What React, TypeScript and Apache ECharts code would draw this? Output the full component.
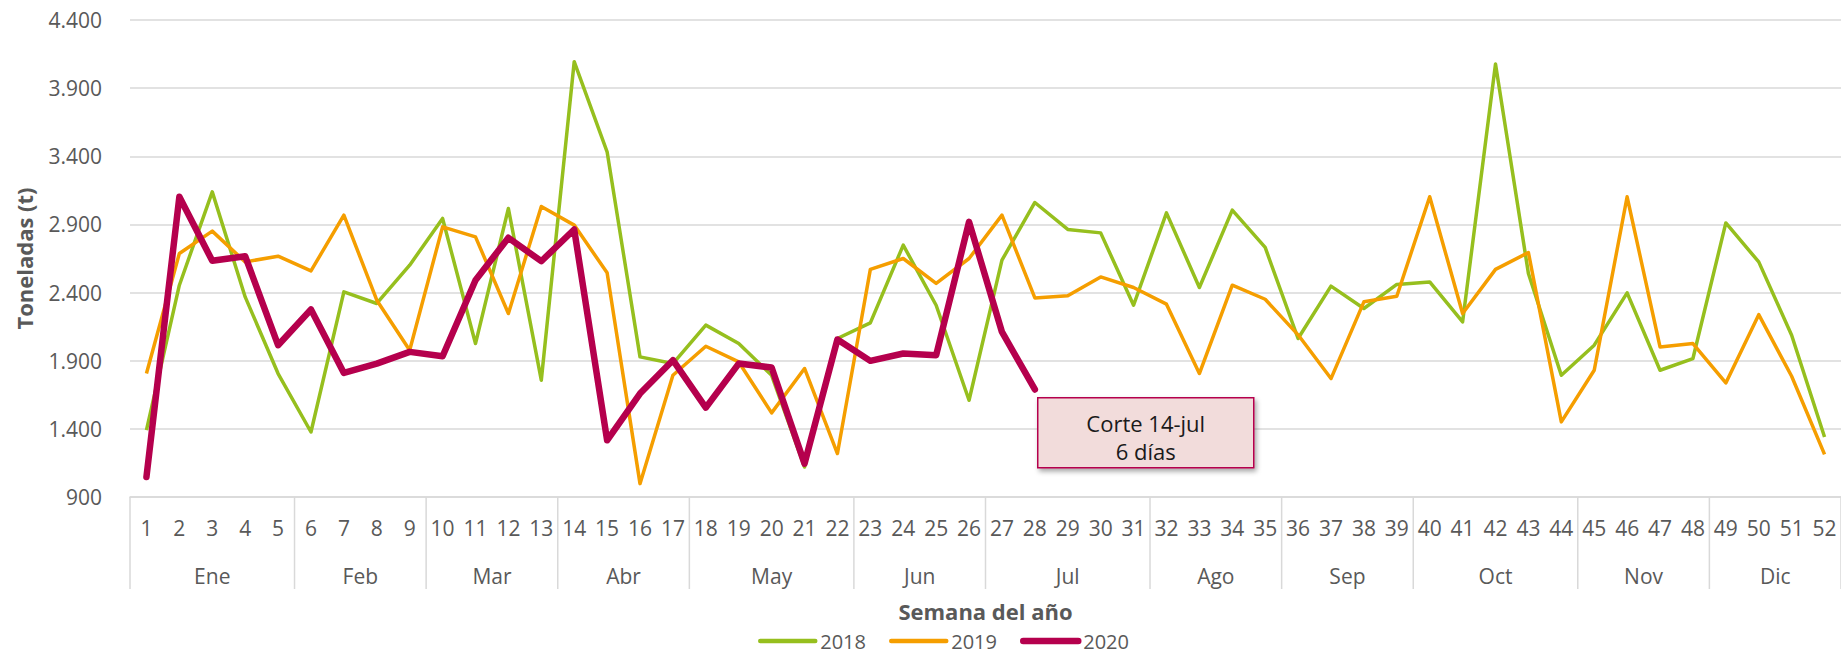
import React, { useEffect, useRef } from 'react';
import * as echarts from 'echarts';

const weeks = ['1','2','3','4','5','6','7','8','9','10','11','12','13','14','15','16','17','18','19','20','21','22','23','24','25','26','27','28','29','30','31','32','33','34','35','36','37','38','39','40','41','42','43','44','45','46','47','48','49','50','51','52'];
const months = ['Ene','Feb','Mar','Abr','May','Jun','Jul','Ago','Sep','Oct','Nov','Dic'];
const monthFirstWeek = [1, 6, 10, 14, 18, 23, 27, 32, 36, 40, 45, 49];
const monthLastWeek = [5, 9, 13, 17, 22, 26, 31, 35, 39, 44, 48, 52];

const serie2018 = [1390, 2454, 3139, 2368, 1806, 1377, 2405, 2320, 2601, 2944, 2026, 3017, 1757, 4094, 3433, 1928, 1879, 2161, 2026, 1793, 1120, 2063, 2178, 2748, 2307, 1610, 2638, 3061, 2863, 2838, 2307, 2985, 2437, 3005, 2731, 2063, 2447, 2283, 2460, 2478, 2185, 4077, 2540, 1793, 2014, 2398, 1830, 1916, 2911, 2625, 2087, 1340];
const serie2019 = [1806, 2687, 2851, 2625, 2667, 2559, 2968, 2344, 1977, 2882, 2809, 2246, 3032, 2895, 2545, 998, 1793, 2006, 1891, 1517, 1843, 1219, 2570, 2650, 2467, 2650, 2968, 2361, 2376, 2515, 2437, 2315, 1806, 2454, 2351, 2090, 1769, 2332, 2373, 3103, 2246, 2570, 2694, 1451, 1830, 3103, 2001, 2026, 1737, 2238, 1786, 1213];
const serie2020 = [1047, 3103, 2633, 2667, 2014, 2276, 1810, 1879, 1965, 1933, 2491, 2802, 2630, 2863, 1316, 1659, 1904, 1556, 1879, 1850, 1145, 2056, 1899, 1953, 1940, 2919, 2111, 1689];

const yMin = 900;
const yMax = 4400;
const yStep = 500;

const FONT = '"Open Sans", "Noto Sans", sans-serif';
const GREY_TEXT = '#595959';
const GRID_GREY = '#d9d9d9';
const GREEN = '#96bf1e';
const ORANGE = '#f59e00';
const RED = '#b5004d';

const fmt = (v: number) => {
  if (v >= 1000) {
    const th = Math.floor(v / 1000);
    const rest = String(Math.round(v % 1000)).padStart(3, '0');
    return `${th}.${rest}`;
  }
  return String(v);
};

export default function App() {
  const ref = useRef<HTMLDivElement>(null);

  useEffect(() => {
    if (!ref.current) return;
    const chart = echarts.init(ref.current, null, { renderer: 'svg' });
    const monthData = months.map((m, i) => [monthFirstWeek[i] - 1, monthLastWeek[i] - 1, yMin]);

    chart.setOption({
      animation: false,
      textStyle: { fontFamily: FONT },
      grid: { left: 130, right: 0, top: 20, bottom: 160, containLabel: false },
      legend: {
        data: [
          { name: '2018', lineStyle: { width: 4.5, cap: 'round' } },
          { name: '2019', lineStyle: { width: 4.5, cap: 'round' } },
          { name: '2020', lineStyle: { width: 6.5, cap: 'round' } },
        ],
        left: 758,
        top: 631,
        padding: 0,
        itemWidth: 55,
        itemHeight: 20,
        itemGap: 23,
        itemStyle: { opacity: 0 },
        textStyle: { fontSize: 20, lineHeight: 20, color: GREY_TEXT, fontFamily: FONT, padding: [0, 0, 0, 0] },
      },
      xAxis: {
        type: 'category',
        data: weeks,
        boundaryGap: true,
        axisLine: { show: true, lineStyle: { color: GRID_GREY, width: 1.5 } },
        axisTick: { show: false },
        axisLabel: { interval: 0, margin: 20, fontSize: 21, color: GREY_TEXT, fontFamily: FONT },
        name: 'Semana del año',
        nameLocation: 'middle',
        nameGap: 103,
        nameTextStyle: { fontSize: 22, fontWeight: 'bold', color: GREY_TEXT, fontFamily: FONT },
      },
      yAxis: {
        type: 'value',
        min: yMin,
        max: yMax,
        interval: yStep,
        axisLine: { show: false },
        axisTick: { show: false },
        splitLine: { show: true, lineStyle: { color: GRID_GREY, width: 1.5 } },
        axisLabel: { formatter: fmt, margin: 28, fontSize: 21, color: GREY_TEXT, fontFamily: FONT },
        name: 'Toneladas (t)',
        nameLocation: 'middle',
        nameGap: 95,
        nameTextStyle: { fontSize: 22, fontWeight: 'bold', color: GREY_TEXT, fontFamily: FONT },
      },
      series: [
        {
          name: '2018',
          type: 'line',
          data: serie2018,
          symbol: 'none',
          color: GREEN,
          lineStyle: { width: 3.5, color: GREEN, join: 'round' },
          z: 2,
        },
        {
          name: '2019',
          type: 'line',
          data: serie2019,
          symbol: 'none',
          color: ORANGE,
          lineStyle: { width: 3.5, color: ORANGE, join: 'round' },
          z: 3,
        },
        {
          name: '2020',
          type: 'line',
          data: serie2020,
          symbol: 'none',
          color: RED,
          lineStyle: { width: 6.5, color: RED, join: 'round', cap: 'round' },
          z: 4,
        },
        {
          name: 'meses',
          type: 'custom',
          silent: true,
          clip: false,
          data: monthData,
          encode: { x: [0, 1], y: 2 },
          renderItem: (params: any, api: any) => {
            const a = api.coord([api.value(0), yMin]);
            const b = api.coord([api.value(1), yMin]);
            const bw = api.size([1, 0])[0];
            const x0 = a[0] - bw / 2;
            const x1 = b[0] + bw / 2;
            const y = a[1];
            const children: any[] = [
              {
                type: 'line',
                shape: { x1: x0, y1: y, x2: x0, y2: y + 92 },
                style: { stroke: GRID_GREY, lineWidth: 1.5 },
              },
              {
                type: 'text',
                x: (x0 + x1) / 2,
                y: y + 79,
                style: {
                  text: months[params.dataIndex],
                  fill: GREY_TEXT,
                  fontSize: 21,
                  fontFamily: FONT,
                  align: 'center',
                  verticalAlign: 'middle',
                },
              },
            ];
            if (params.dataIndex === months.length - 1) {
              children.push({
                type: 'line',
                shape: { x1: x1, y1: y, x2: x1, y2: y + 92 },
                style: { stroke: GRID_GREY, lineWidth: 1.5 },
              });
            }
            return { type: 'group', children };
          },
          z: 1,
        },
      ],
      graphic: [
        {
          type: 'group',
          left: 1037,
          top: 397,
          z: 100,
          children: [
            {
              type: 'rect',
              z: 100,
              shape: { x: 0, y: 0, width: 216, height: 70 },
              style: {
                fill: '#f2dcdb',
                stroke: RED,
                lineWidth: 1.5,
                shadowBlur: 5,
                shadowOffsetX: 2,
                shadowOffsetY: 3,
                shadowColor: 'rgba(0,0,0,0.35)',
              },
            },
            {
              type: 'text',
              z: 101,
              x: 108,
              y: 25,
              style: {
                text: 'Corte 14-jul',
                fill: '#1a1a1a',
                fontSize: 22,
                fontFamily: FONT,
                align: 'center',
                verticalAlign: 'middle',
              },
            },
            {
              type: 'text',
              z: 101,
              x: 108,
              y: 53,
              style: {
                text: '6 días',
                fill: '#1a1a1a',
                fontSize: 22,
                fontFamily: FONT,
                align: 'center',
                verticalAlign: 'middle',
              },
            },
          ],
        },
      ],
    });

    return () => chart.dispose();
  }, []);

  return (
    <div
      ref={ref}
      style={{ position: 'fixed', left: 0, top: 0, width: 1841, height: 657, background: '#ffffff' }}
    />
  );
}
